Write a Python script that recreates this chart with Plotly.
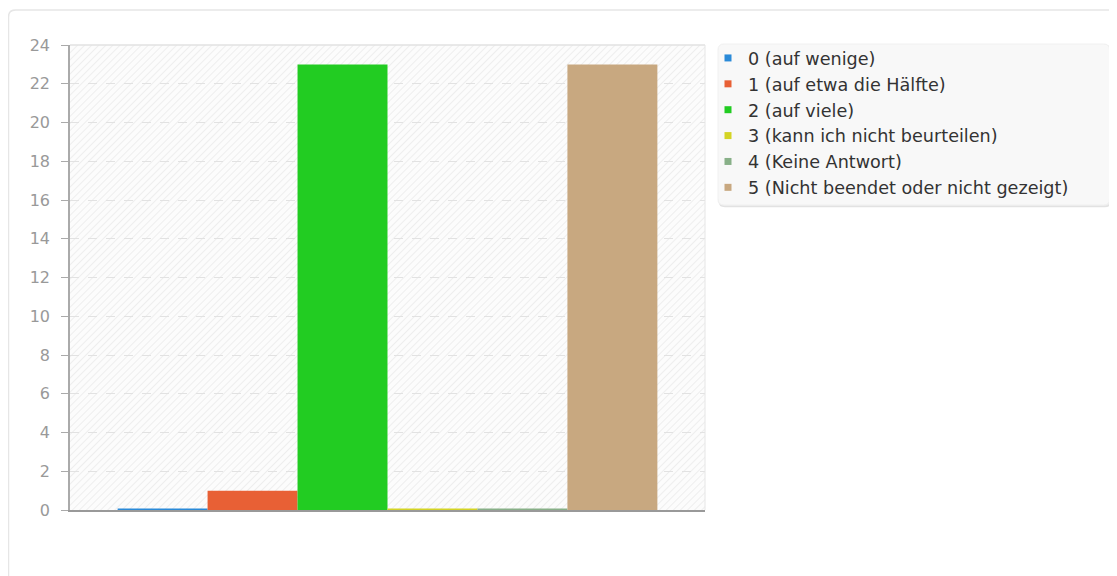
import base64
import plotly.graph_objects as go

categories = [""]
series_names = [
    "0 (auf wenige)",
    "1 (auf etwa die Hälfte)",
    "2 (auf viele)",
    "3 (kann ich nicht beurteilen)",
    "4 (Keine Antwort)",
    "5 (Nicht beendet oder nicht gezeigt)",
]
series_values = [0, 1, 23, 0, 0, 23]
colors = ["#2a8ad8", "#e86035", "#22cc22", "#d4d424", "#88b088", "#c8a880"]
y_ticks = list(range(0, 25, 2))

W, H = 1109, 568
PX0, PX1, PY0, PY1 = 62, 697, 37, 502  # plot area in figure pixels
L, R, T, B = PX0, W - PX1, PY0, H - PY1
pw, ph = PX1 - PX0, PY1 - PY0


def px(x):
    return (x - PX0) / pw


def py(y):
    return (PY1 - y) / ph


FONT = "'DejaVu Sans', sans-serif"

fig = go.Figure()

for name, v, c in zip(series_names, series_values, colors):
    fig.add_trace(go.Bar(
        x=categories, y=[v], name=name,
        marker=dict(color=c, line=dict(color=c, width=3 if v == 0 else 0)),
        showlegend=False,
    ))
    fig.add_trace(go.Scatter(
        x=[None], y=[None], name=name, mode="markers",
        marker=dict(symbol="square", size=7, color=c), showlegend=True,
    ))

fig.update_layout(
    width=W, height=H,
    margin=dict(l=L, r=R, t=T, b=B),
    paper_bgcolor="white", plot_bgcolor="rgba(0,0,0,0)",
    barmode="group", bargap=0.15, bargroupgap=0,
    font=dict(family=FONT, size=15, color="#333"),
    xaxis=dict(showticklabels=False, showgrid=False, zeroline=False,
               showline=True, linecolor="#999", linewidth=1.5, ticks="",
               layer="below traces"),
    yaxis=dict(range=[0, 24], tickvals=y_ticks, showgrid=True,
               gridcolor="#e2e2e2", griddash="dash", gridwidth=1, zeroline=False,
               showline=True, linecolor="#aaa", linewidth=1.5,
               ticks="outside", ticklen=7, tickcolor="#aaa",
               ticklabelstandoff=8, layer="below traces",
               tickfont=dict(color="#999", size=16, family=FONT)),
    legend=dict(x=px(700), y=py(32), xanchor="left", yanchor="top",
                bgcolor="rgba(0,0,0,0)", borderwidth=0,
                font=dict(size=17.6, color="#333", family=FONT), itemwidth=30,
                tracegroupgap=0),
    showlegend=True,
)

# hatched plot background (decorative image below grid and bars)
svg = (
    f"<svg xmlns='http://www.w3.org/2000/svg' width='{pw}' height='{ph}'>"
    "<defs><pattern id='p' width='5' height='5' patternUnits='userSpaceOnUse' "
    "patternTransform='rotate(45)'><rect width='5' height='5' fill='#fcfcfc'/>"
    "<line x1='0' y1='0' x2='0' y2='5' stroke='#e9e9e9' stroke-width='1.4'/></pattern></defs>"
    "<rect width='100%' height='100%' fill='url(#p)'/></svg>"
)
fig.add_layout_image(
    source="data:image/svg+xml;base64," + base64.b64encode(svg.encode()).decode(),
    xref="paper", yref="paper", x=0, y=1, sizex=1, sizey=1,
    sizing="stretch", xanchor="left", yanchor="top", layer="below",
)


def rrect(x0, y0, x1, y1, r):
    return (f"M {px(x0 + r)} {py(y0)} L {px(x1 - r)} {py(y0)} "
            f"Q {px(x1)} {py(y0)} {px(x1)} {py(y0 + r)} L {px(x1)} {py(y1 - r)} "
            f"Q {px(x1)} {py(y1)} {px(x1 - r)} {py(y1)} L {px(x0 + r)} {py(y1)} "
            f"Q {px(x0)} {py(y1)} {px(x0)} {py(y1 - r)} L {px(x0)} {py(y0 + r)} "
            f"Q {px(x0)} {py(y0)} {px(x0 + r)} {py(y0)} Z")


# card border
fig.add_shape(type="path", xref="paper", yref="paper", path=rrect(0.5, 2, 1130, 600, 7),
              line=dict(color="#e6e6e6", width=1.5), fillcolor="rgba(0,0,0,0)", layer="below")
# legend box shadow + box
fig.add_shape(type="path", xref="paper", yref="paper", path=rrect(711, 37.5, 1103, 198.5, 6),
              line=dict(color="#e2e2e2", width=1.5), fillcolor="#eeeeee", layer="below")
fig.add_shape(type="path", xref="paper", yref="paper", path=rrect(710, 36, 1101.5, 197, 6),
              line=dict(color="#f0f0f0", width=1), fillcolor="#f8f8f8", layer="below")
# plot top / right border
fig.add_shape(type="line", xref="paper", yref="paper", x0=0, x1=1, y0=1, y1=1,
              line=dict(color="#e2e2e2", width=1.5))
fig.add_shape(type="line", xref="paper", yref="paper", x0=1, x1=1, y0=0, y1=1,
              line=dict(color="#e6e6e6", width=1))

fig.write_html("out.html")
